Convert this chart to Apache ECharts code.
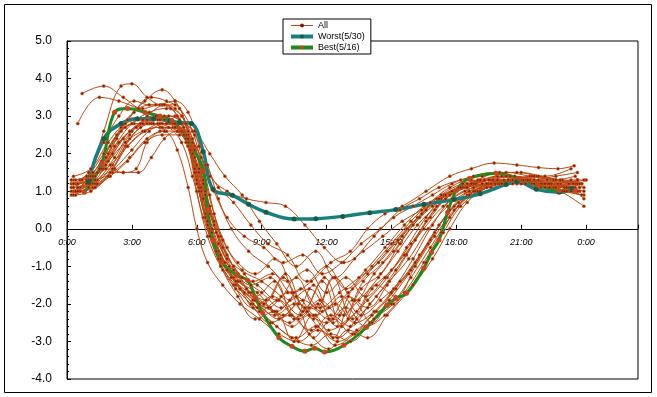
<!DOCTYPE html>
<html>
<head>
<meta charset="utf-8">
<script src="https://cdn.jsdelivr.net/npm/echarts@6/dist/echarts.min.js"></script>
<style>
  html, body { margin: 0; padding: 0; background: #fff; }
  #chart { width: 657px; height: 397px; }
</style>
</head>
<body>
<div id="chart"></div>
<script>
// 时刻标签 (每3小时)
const timeLabels = ['0:00', '3:00', '6:00', '9:00', '12:00', '15:00', '18:00', '21:00', '0:00'];

// 各日数据 [时刻(h), 值]
const allDays = [
    [[0.3,1.0],[1.1,1.2],[1.8,1.9],[2.5,2.7],[3.3,3.2],[4.1,3.3],[4.8,3.2],[5.4,2.7],[5.9,1.6],[6.4,0.4],[7.0,-0.6],[7.7,-1.3],[8.6,-1.9],[9.5,-2.2],[10.4,-2.6],[11.2,-2.3],[12.1,-2.7],[13.0,-2.4],[13.9,-1.9],[14.8,-1.3],[15.7,-0.5],[16.6,0.3],[17.5,0.9],[18.5,1.2],[19.6,1.3],[20.7,1.4],[21.8,1.3],[22.8,1.2],[23.7,1.0]],
    [[0.7,3.6],[1.7,3.8],[2.6,3.5],[3.5,3.2],[4.3,3.3],[5.0,3.2],[5.6,2.6],[6.0,1.5],[6.4,0.3],[7.0,-0.8],[7.8,-1.5],[8.7,-1.8],[9.6,-1.4],[10.5,-2.4],[11.4,-1.5],[12.3,-2.5],[13.2,-1.6],[14.1,-1.0],[15.0,-0.4],[15.9,0.2],[16.8,0.7],[17.7,1.1],[18.7,1.3],[19.8,1.2],[20.9,1.3],[22.0,1.2],[23.0,1.1],[23.8,1.2]],
    [[0.5,2.8],[1.5,3.5],[2.4,3.4],[3.3,3.2],[4.2,3.0],[5.0,3.0],[5.6,2.3],[6.1,1.1],[6.6,0.0],[7.2,-0.9],[8.0,-1.4],[8.9,-2.0],[9.8,-2.4],[10.7,-2.0],[11.6,-2.6],[12.5,-2.9],[13.4,-2.4],[14.3,-1.8],[15.2,-1.1],[16.1,-0.3],[17.0,0.5],[17.9,1.0],[18.9,1.2],[19.9,1.4],[21.0,1.3],[22.1,1.2],[23.1,1.0],[23.9,0.9]],
    [[0.4,1.0],[1.2,1.2],[2.0,1.5],[2.6,1.5],[3.2,1.6],[3.7,2.3],[4.3,2.6],[4.9,2.7],[5.5,2.3],[6.0,1.2],[6.5,0.1],[7.1,-0.8],[7.9,-1.4],[8.8,-1.7],[9.7,-2.2],[10.6,-1.8],[11.5,-2.3],[12.4,-2.0],[13.3,-2.5],[14.2,-2.2],[15.1,-1.6],[16.0,-0.8],[16.9,0.1],[17.8,0.8],[18.8,1.1],[19.8,1.2],[20.8,1.2],[21.9,1.1],[22.9,1.0],[23.7,1.1]],
    [[0.2,0.9],[1.0,1.4],[1.7,2.6],[2.5,3.8],[3.0,3.86],[3.7,3.5],[4.4,3.3],[5.0,3.3],[5.6,2.5],[6.0,1.3],[6.5,0.1],[7.1,-0.7],[7.9,-1.2],[8.8,-1.5],[9.7,-1.9],[10.6,-1.3],[11.5,-2.1],[12.4,-1.3],[13.3,-1.9],[14.2,-1.2],[15.1,-0.6],[16.0,0.1],[16.9,0.6],[17.8,1.0],[18.8,1.2],[19.9,1.3],[21.0,1.2],[22.1,1.1],[23.2,1.2],[23.9,1.3]],
    [[0.4,1.2],[1.2,1.5],[2.0,2.2],[2.8,2.9],[3.6,3.4],[4.4,3.7],[5.0,3.4],[5.5,2.8],[6.0,1.7],[6.5,0.5],[7.0,-0.4],[7.7,-1.1],[8.5,-1.7],[9.4,-2.1],[10.3,-2.5],[11.2,-2.1],[12.1,-2.4],[13.0,-1.8],[13.9,-2.1],[14.8,-1.5],[15.7,-0.7],[16.6,0.2],[17.5,0.8],[18.5,1.1],[19.5,1.2],[20.6,1.3],[21.7,1.4],[22.7,1.2],[23.6,1.0]],
    [[0.3,1.3],[1.1,1.4],[1.9,1.8],[2.7,2.3],[3.5,2.6],[4.3,2.7],[5.0,2.7],[5.6,2.5],[6.2,1.9],[6.8,1.0],[7.4,0.3],[8.2,-0.2],[9.1,-0.5],[10.0,-0.9],[10.9,-0.7],[11.8,-1.2],[12.7,-0.9],[13.6,-0.4],[14.5,0.0],[15.4,0.5],[16.3,0.8],[17.2,1.1],[18.2,1.3],[19.2,1.4],[20.3,1.5],[21.4,1.4],[22.5,1.3],[23.5,1.2]],
    [[0.6,1.1],[1.4,1.3],[2.2,1.9],[3.0,2.6],[3.8,2.8],[4.6,2.8],[5.3,2.6],[5.9,1.9],[6.4,0.9],[7.0,-0.2],[7.7,-1.0],[8.6,-1.4],[9.5,-1.2],[10.4,-1.7],[11.3,-1.4],[12.2,-0.9],[13.1,-0.6],[13.9,0.0],[14.7,0.4],[15.5,0.6],[16.6,1.0],[17.7,1.4],[18.7,1.6],[19.75,1.75],[20.8,1.7],[21.8,1.63],[22.7,1.6],[23.45,1.68]],
    [[0.2,1.1],[0.9,1.3],[1.6,1.8],[2.3,2.5],[3.1,2.8],[3.9,2.8],[4.6,2.6],[5.1,2.1],[5.6,1.1],[6.0,0.0],[6.5,-0.9],[7.2,-1.5],[8.0,-2.0],[8.9,-2.4],[9.8,-2.8],[10.7,-3.0],[11.6,-2.7],[12.5,-3.0],[13.4,-2.7],[14.3,-2.2],[15.2,-1.6],[16.1,-0.9],[17.0,-0.1],[17.9,0.6],[18.9,1.0],[19.9,1.2],[20.9,1.3],[22.0,1.2],[23.0,1.0],[23.8,0.9]],
    [[0.5,1.2],[1.3,1.3],[2.1,1.5],[2.9,1.9],[3.7,2.4],[4.5,2.6],[5.2,2.6],[5.8,2.3],[6.4,1.7],[7.0,1.1],[7.7,0.7],[8.5,0.1],[9.3,-0.4],[10.2,-0.7],[11.1,-1.4],[12.0,-1.0],[12.9,-1.6],[13.8,-1.1],[14.7,-0.5],[15.6,0.1],[16.5,0.6],[17.4,0.9],[18.4,1.1],[19.4,1.2],[20.4,1.3],[21.5,1.2],[22.6,1.1],[23.6,1.3]],
    [[0.4,1.0],[1.2,1.1],[2.0,1.4],[2.8,1.8],[3.6,2.3],[4.4,2.5],[5.2,2.5],[5.9,2.1],[6.6,1.4],[7.4,1.0],[8.3,0.8],[9.2,0.7],[10.1,0.6],[11.0,0.1],[11.9,-0.5],[12.8,-0.9],[13.7,-0.6],[14.6,-0.2],[15.5,0.2],[16.4,0.5],[17.3,0.8],[18.3,1.1],[19.3,1.3],[20.3,1.4],[21.4,1.3],[22.5,1.3],[23.5,1.4]],
    [[0.3,0.9],[1.0,1.1],[1.7,1.6],[2.4,2.3],[3.2,2.7],[4.0,2.8],[4.7,2.7],[5.3,2.3],[5.8,1.4],[6.3,0.3],[6.9,-0.6],[7.6,-1.3],[8.4,-1.7],[9.3,-2.1],[10.2,-1.7],[11.1,-2.2],[12.0,-2.5],[12.9,-2.1],[13.8,-2.6],[14.7,-2.3],[15.6,-1.7],[16.5,-0.9],[17.3,-0.1],[18.1,0.6],[19.0,1.0],[20.0,1.2],[21.1,1.3],[22.2,1.3],[23.2,1.2],[23.9,1.1]],
    [[0.6,1.3],[1.4,1.5],[2.2,2.2],[3.0,2.8],[3.8,3.1],[4.6,3.2],[5.3,3.0],[5.9,2.2],[6.4,1.0],[6.9,-0.1],[7.5,-1.0],[8.3,-1.6],[9.2,-1.9],[10.1,-1.2],[11.0,-2.1],[11.9,-1.3],[12.8,-2.3],[13.7,-1.4],[14.6,-0.9],[15.5,-0.2],[16.4,0.4],[17.3,0.9],[18.3,1.2],[19.3,1.3],[20.4,1.3],[21.5,1.4],[22.6,1.3],[23.6,1.2]],
    [[0.2,1.2],[1.0,1.3],[1.8,1.7],[2.6,2.4],[3.4,2.8],[4.2,2.9],[4.9,2.8],[5.5,2.4],[6.0,1.3],[6.5,0.2],[7.1,-0.7],[7.8,-1.4],[8.6,-2.0],[9.5,-2.5],[10.4,-2.9],[11.3,-3.1],[12.2,-2.8],[13.1,-3.0],[14.0,-2.5],[14.9,-1.9],[15.8,-1.2],[16.7,-0.4],[17.6,0.4],[18.5,0.9],[19.5,1.2],[20.5,1.3],[21.5,1.2],[22.5,1.1],[23.4,1.2]],
    [[0.3,1.1],[1.0,1.2],[1.8,1.6],[2.6,1.5],[3.3,1.5],[3.9,1.9],[4.5,2.4],[5.1,2.6],[5.7,2.2],[6.2,1.1],[6.7,0.0],[7.3,-0.9],[8.0,-1.6],[8.9,-2.2],[9.8,-1.9],[10.7,-2.4],[11.6,-2.0],[12.5,-2.6],[13.4,-2.2],[14.3,-1.5],[15.2,-1.8],[16.1,-1.0],[17.0,-0.2],[17.9,0.5],[18.8,1.0],[19.8,1.2],[20.8,1.3],[21.8,1.2],[22.8,1.0],[23.9,0.6]],
    [[0.4,0.9],[1.1,1.0],[1.9,1.4],[2.7,2.2],[3.4,2.7],[4.2,2.8],[4.9,2.8],[5.5,2.5],[6.1,1.6],[6.6,0.6],[7.2,-0.3],[7.9,-0.9],[8.7,-1.2],[9.6,-0.8],[10.5,-1.7],[11.4,-2.4],[12.3,-1.3],[13.2,-2.4],[14.1,-1.6],[15.0,-1.1],[15.9,-0.4],[16.8,0.3],[17.7,0.9],[18.7,1.2],[19.7,1.3],[20.8,1.3],[21.9,1.2],[22.9,1.3],[23.8,1.2]],
    [[0.5,1.1],[1.3,1.2],[2.1,1.7],[2.9,2.5],[3.7,3.0],[4.4,3.3],[5.0,3.4],[5.6,3.1],[6.1,2.2],[6.6,0.9],[7.1,-0.2],[7.7,-1.0],[8.5,-1.5],[9.4,-1.3],[10.3,-1.9],[11.2,-1.6],[12.1,-2.1],[13.0,-1.7],[13.9,-1.2],[14.8,-0.6],[15.7,0.0],[16.6,0.5],[17.5,0.9],[18.5,1.1],[19.5,1.3],[20.5,1.4],[21.6,1.3],[22.7,1.2],[23.6,1.3]],
    [[0.3,1.4],[1.1,1.6],[1.9,2.3],[2.7,2.8],[3.5,2.9],[4.3,2.9],[5.0,2.8],[5.6,2.4],[6.1,1.5],[6.6,0.4],[7.2,-0.5],[7.9,-1.2],[8.7,-1.9],[9.6,-2.3],[10.5,-2.0],[11.4,-2.9],[12.3,-2.4],[13.2,-2.8],[14.1,-2.3],[15.0,-2.0],[15.9,-1.3],[16.8,-0.5],[17.7,0.3],[18.6,0.9],[19.6,1.2],[20.6,1.3],[21.6,1.4],[22.6,1.3],[23.5,1.1]],
    [[0.6,1.0],[1.4,1.2],[2.2,1.6],[3.0,2.1],[3.8,2.6],[4.6,2.8],[5.3,2.8],[5.9,2.5],[6.5,1.7],[7.0,0.8],[7.6,0.0],[8.4,-0.6],[9.3,-1.0],[10.2,-1.4],[11.1,-1.1],[12.0,-1.7],[12.9,-1.3],[13.8,-1.8],[14.7,-1.3],[15.6,-0.7],[16.5,0.0],[17.4,0.6],[18.4,1.0],[19.4,1.2],[20.4,1.3],[21.4,1.3],[22.4,1.2],[23.4,1.0]],
    [[0.2,1.0],[0.9,1.2],[1.6,1.6],[2.4,2.3],[3.2,2.7],[4.0,2.9],[4.7,3.0],[5.3,2.8],[5.8,2.0],[6.3,0.8],[6.8,-0.3],[7.4,-1.1],[8.2,-1.7],[9.1,-2.0],[10.0,-2.3],[10.9,-1.9],[11.8,-2.2],[12.7,-1.8],[13.6,-2.3],[14.5,-1.9],[15.4,-1.4],[16.3,-0.7],[17.2,0.1],[18.1,0.7],[19.1,1.0],[20.1,1.2],[21.2,1.2],[22.3,1.1],[23.3,1.3],[24.0,1.3]],
    [[0.7,1.3],[1.5,1.6],[2.3,2.4],[3.1,3.1],[3.9,3.5],[4.6,3.4],[5.2,3.2],[5.8,2.6],[6.3,1.5],[6.8,0.4],[7.4,-0.5],[8.1,-1.1],[9.0,-1.4],[9.9,-1.8],[10.8,-2.3],[11.7,-1.9],[12.6,-2.3],[13.5,-1.9],[14.4,-1.3],[15.3,-0.6],[16.2,0.1],[17.1,0.6],[18.0,1.0],[19.0,1.3],[20.0,1.5],[21.0,1.5],[22.1,1.4],[23.3,1.6]],
    [[0.4,1.0],[1.2,1.1],[2.0,1.5],[2.8,2.2],[3.6,2.6],[4.4,2.7],[5.1,2.6],[5.7,2.1],[6.2,1.0],[6.7,-0.1],[7.3,-0.9],[8.0,-1.6],[8.8,-2.1],[9.7,-2.6],[10.6,-2.9],[11.5,-2.6],[12.4,-3.1],[13.3,-2.8],[14.2,-2.4],[15.1,-2.0],[16.0,-1.5],[16.9,-0.8],[17.7,0.0],[18.5,0.7],[19.4,1.1],[20.4,1.3],[21.4,1.3],[22.4,1.2],[23.4,1.1]],
    [[0.3,1.2],[1.0,1.5],[1.7,2.3],[2.4,3.0],[3.1,3.4],[3.8,3.3],[4.5,3.3],[5.1,3.0],[5.6,2.2],[6.0,1.0],[6.5,-0.2],[7.1,-1.0],[7.8,-1.6],[8.6,-2.1],[9.5,-1.8],[10.4,-2.3],[11.3,-2.7],[12.2,-2.3],[13.1,-2.6],[14.0,-2.0],[14.9,-1.4],[15.8,-0.8],[16.7,0.0],[17.6,0.6],[18.6,1.0],[19.6,1.1],[20.6,1.2],[21.6,1.3],[22.6,1.4],[23.6,1.5]],
    [[0.5,1.1],[1.3,1.4],[2.1,2.0],[2.9,2.6],[3.7,2.9],[4.5,3.0],[5.2,2.9],[5.8,2.4],[6.3,1.3],[6.8,0.2],[7.4,-0.7],[8.1,-1.3],[9.0,-1.7],[9.9,-2.1],[10.8,-1.6],[11.7,-2.1],[12.6,-1.7],[13.5,-1.3],[14.4,-0.9],[15.3,-0.3],[16.2,0.3],[17.1,0.8],[18.1,1.1],[19.1,1.3],[20.1,1.4],[21.2,1.3],[22.2,1.2],[23.2,1.1],[23.9,0.8]],
    [[0.3,1.2],[1.1,1.3],[1.9,2.0],[2.7,2.7],[3.5,2.8],[4.3,2.8],[5.0,2.7],[5.6,2.2],[6.1,1.0],[6.6,-0.2],[7.2,-1.1],[7.9,-1.8],[8.7,-2.4],[9.6,-2.2],[10.5,-3.0],[11.4,-2.3],[12.3,-2.9],[13.2,-1.9],[14.1,-2.5],[15.0,-1.7],[15.9,-1.1],[16.8,-0.3],[17.7,0.5],[18.6,1.0],[19.6,1.2],[20.6,1.3],[21.6,1.2],[22.6,1.1],[23.6,1.3]],
    [[0.5,1.0],[1.3,1.1],[2.1,1.6],[2.9,2.4],[3.7,2.8],[4.5,2.9],[5.2,2.8],[5.8,2.3],[6.3,1.2],[6.8,0.1],[7.4,-0.8],[8.2,-1.2],[9.1,-2.0],[10.0,-1.3],[10.9,-2.2],[11.8,-1.4],[12.7,-2.6],[13.6,-1.6],[14.5,-1.2],[15.4,-0.4],[16.3,0.3],[17.2,0.8],[18.2,1.1],[19.2,1.2],[20.2,1.3],[21.3,1.3],[22.3,1.2],[23.3,1.0]],
    [[0.4,1.3],[1.2,1.4],[2.0,1.7],[2.8,2.2],[3.6,2.6],[4.4,2.8],[5.2,2.8],[5.9,2.6],[6.6,2.0],[7.3,1.4],[8.1,0.9],[8.9,0.2],[9.7,-0.4],[10.6,-1.0],[11.5,-0.6],[12.4,-1.3],[13.3,-0.8],[14.2,-0.2],[15.1,0.3],[16.0,0.6],[16.9,0.9],[17.8,1.2],[18.8,1.4],[19.8,1.5],[20.8,1.5],[21.8,1.4],[22.8,1.3],[23.7,1.2]],
    [[0.2,1.3],[0.9,1.4],[1.7,2.0],[2.5,2.6],[3.3,2.9],[4.1,3.0],[4.8,2.9],[5.4,2.5],[5.9,1.5],[6.4,0.3],[7.0,-0.8],[7.7,-1.5],[8.5,-2.0],[9.4,-2.5],[10.3,-2.3],[11.2,-2.8],[12.1,-3.2],[13.0,-2.7],[13.9,-2.9],[14.8,-2.3],[15.7,-1.7],[16.6,-0.9],[17.4,-0.1],[18.2,0.6],[19.1,1.0],[20.1,1.2],[21.1,1.3],[22.1,1.2],[23.1,1.1],[23.9,1.0]]
];

// Worst(5/30)
const worstDay = [[1.0,1.25],[1.7,2.4],[2.5,2.8],[3.25,2.93],[4.0,2.93],[4.75,2.87],[5.2,2.83],[5.75,2.8],[6.3,2.05],[6.75,1.05],[7.65,0.89],[8.4,0.65],[9.2,0.44],[10.5,0.26],[11.5,0.27],[12.75,0.33],[14.0,0.43],[15.2,0.51],[16.5,0.65],[17.9,0.78],[19.1,0.93],[20.3,1.18],[20.8,1.26],[21.7,1.05],[22.75,0.97],[23.35,1.07]];

// Best(5/16)
const bestDay = [[0.8,0.97],[1.6,1.74],[2.2,3.1],[2.8,3.2],[3.6,3.1],[4.3,3.0],[4.85,2.88],[5.2,2.67],[5.8,2.17],[6.3,1.55],[6.5,0.5],[6.75,-0.31],[7.15,-0.89],[7.85,-1.24],[8.35,-1.37],[8.7,-1.82],[9.05,-2.25],[9.8,-2.9],[10.4,-3.13],[11.0,-3.26],[11.45,-3.18],[11.9,-3.28],[12.8,-3.1],[13.85,-2.62],[14.8,-2.04],[15.2,-1.85],[15.7,-1.72],[16.5,-1.05],[16.85,-0.63],[17.2,-0.3],[17.6,0.44],[18.0,1.02],[18.6,1.34],[19.85,1.47],[20.9,1.34],[21.8,1.15],[22.75,1.02],[23.5,1.02]];

(function () {
    let myChart = echarts.init(document.getElementById('chart'), null, { renderer: 'canvas' });

    // 0点在y轴上的位置 (grid高338, 范围 -4 ~ 5)
    let zeroOffset = 338 * 4 / 9;

    let series = [];
    for (let i = 0; i < allDays.length; i++) {
        series.push({
            name: 'All',
            type: 'line',
            smooth: 0.4,
            data: allDays[i],
            symbol: 'circle',
            symbolSize: 3,
            lineStyle: { color: '#b9470f', width: 1 },
            itemStyle: { color: '#7c1d0c', borderColor: '#e0661e', borderWidth: 0.6 }
        });
    }
    series.push({
        name: 'Worst(5/30)',
        type: 'line',
        smooth: 0.4,
        data: worstDay,
        symbol: 'circle',
        symbolSize: 5,
        lineStyle: { color: '#17807e', width: 3.5 },
        itemStyle: { color: '#1d5a45' }
    });
    series.push({
        name: 'Best(5/16)',
        type: 'line',
        smooth: 0.4,
        data: bestDay,
        symbol: 'circle',
        symbolSize: 5,
        lineStyle: { color: '#1c8a1f', width: 3 },
        itemStyle: { color: '#c8451a' }
    });

    let option = {
        animation: false,
        backgroundColor: '#fff',
        graphic: [{
            type: 'rect',
            shape: { x: 4.5, y: 4.5, width: 647, height: 388 },
            style: { fill: 'none', stroke: '#000', lineWidth: 1 },
            z: -1
        }],
        legend: {
            orient: 'vertical',
            left: 283,
            top: 19,
            padding: [1, 6, 1, 6],
            itemGap: 0,
            itemWidth: 22,
            itemHeight: 5,
            borderColor: '#000',
            borderWidth: 1,
            backgroundColor: '#fff',
            textStyle: { fontSize: 9, lineHeight: 11, color: '#000', fontFamily: 'Liberation Sans' },
            data: [
                { name: 'All', lineStyle: { width: 1 }, itemStyle: { borderWidth: 0, color: '#7c1d0c' } },
                { name: 'Worst(5/30)', lineStyle: { width: 4 } },
                { name: 'Best(5/16)', lineStyle: { width: 4 } }
            ]
        },
        grid: {
            left: 67,
            top: 41,
            width: 571,
            height: 338,
            show: true,
            borderColor: '#000',
            borderWidth: 1,
            backgroundColor: '#fff'
        },
        xAxis: {
            type: 'value',
            min: 0,
            max: 26.4,
            interval: 3,
            position: 'bottom',
            offset: -zeroOffset,
            axisLine: { onZero: false, lineStyle: { color: '#000', width: 1 } },
            axisTick: { inside: true, length: 4, lineStyle: { color: '#000' } },
            splitLine: { show: false },
            axisLabel: {
                margin: 9,
                fontSize: 9,
                fontStyle: 'italic',
                fontFamily: 'Liberation Sans',
                color: '#000',
                formatter: function (v) {
                    if (v % 3 !== 0) return '';
                    return timeLabels[v / 3] || '';
                }
            }
        },
        yAxis: {
            type: 'value',
            min: -4,
            max: 5,
            interval: 1,
            axisLine: { show: true, lineStyle: { color: '#000', width: 1 } },
            axisTick: { inside: true, length: 4, lineStyle: { color: '#000' } },
            minorTick: { show: true, splitNumber: 5, length: 2, lineStyle: { color: '#000' } },
            splitLine: { show: false },
            axisLabel: {
                margin: 15,
                fontSize: 12,
                fontFamily: 'Liberation Sans',
                color: '#000',
                formatter: function (v) { return v.toFixed(1); }
            }
        },
        series: series
    };
    myChart.setOption(option);
    window.addEventListener('resize', function () {
        myChart.resize();
    });
})();
</script>
</body>
</html>
